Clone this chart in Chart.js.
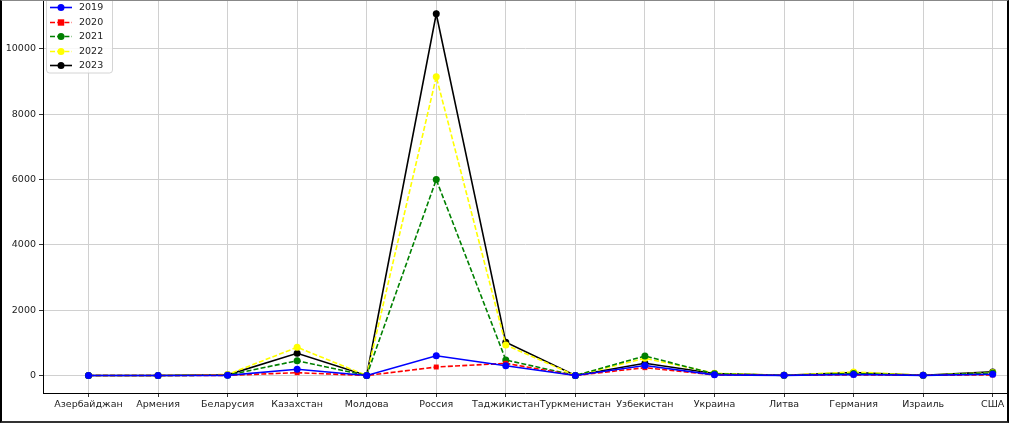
<!DOCTYPE html>
<html>
<head>
<meta charset="utf-8">
<script src="https://cdn.jsdelivr.net/npm/chart.js@4.4.1/dist/chart.umd.min.js"></script>
<style>
    html, body { margin: 0; padding: 0; background: #fff; }
    .frame {
        width: 1005px;
        height: 420px;
        border-left: 2px solid #000;
        border-right: 2px solid #000;
        border-top: 1px solid #888;
        border-bottom: 2px solid #333;
        background: #fff;
    }
    canvas { display: block; }
</style>
</head>
<body>
<div class="frame">
    <canvas id="chart" width="1005" height="420"></canvas>
</div>
<script>
// страны (ось X)
const countries = ['Азербайджан', 'Армения', 'Беларусия', 'Казахстан', 'Молдова', 'Россия',
    'Таджикистан', 'Туркменистан', 'Узбекистан', 'Украина', 'Литва', 'Германия', 'Израиль', 'США'];

// значения по годам
const values2019 = [0, 0, 5, 190, 0, 606, 300, 0, 306, 20, 5, 30, 5, 40];
const values2020 = [0, 0, 5, 86, 0, 260, 373, 0, 240, 20, 5, 20, 5, 20];
const values2021 = [0, 0, 10, 453, 0, 6000, 475, 0, 597, 50, 5, 60, 5, 80];
const values2022 = [0, 0, 30, 864, 0, 9150, 934, 0, 527, 70, 5, 110, 5, 90];
const values2023 = [0, 0, 20, 680, 0, 11080, 1017, 0, 373, 60, 5, 90, 5, 110];

const years = ['2019', '2020', '2021', '2022', '2023'];
const yTicks = [0, 2000, 4000, 6000, 8000, 10000];

const FONT = 'DejaVu Sans';

function toPoints(arr) {
    return arr.map((v, i) => ({ x: i, y: v }));
}

function makeSet(label, values, color, dashed, pointStyle) {
    return {
        label: label,
        data: toPoints(values),
        borderColor: color,
        backgroundColor: color,
        borderWidth: 1.6,
        borderDash: dashed ? [5, 2.2] : [],
        pointStyle: pointStyle,
        pointRadius: 3.5,
        pointBorderWidth: 0,
        pointBackgroundColor: color,
        tension: 0,
        fill: false,
        clip: false
    };
}

// легенда внутри области графика (как в matplotlib)
const innerLegend = {
    id: 'innerLegend',
    afterDraw(chart) {
        const ctx = chart.ctx;
        ctx.save();
        ctx.globalAlpha = 0.85;
        ctx.fillStyle = '#fff';
        ctx.strokeStyle = '#cccccc';
        ctx.lineWidth = 1;
        ctx.beginPath();
        ctx.roundRect(44.5, -6, 66, 78, 3);
        ctx.fill();
        ctx.stroke();
        ctx.globalAlpha = 1;

        const rowsY = [6.5, 21.5, 35.5, 50.5, 64.5];
        chart.data.datasets.forEach((ds, i) => {
            const y = rowsY[i];
            ctx.strokeStyle = ds.borderColor;
            ctx.lineWidth = ds.borderWidth;
            ctx.setLineDash(ds.borderDash);
            ctx.beginPath();
            ctx.moveTo(48, y);
            ctx.lineTo(70, y);
            ctx.stroke();
            ctx.setLineDash([]);
            ctx.fillStyle = ds.borderColor;
            if (ds.pointStyle === 'rect') {
                ctx.fillRect(59 - 3.2, y - 3.2, 6.4, 6.4);
            } else {
                ctx.beginPath();
                ctx.arc(59, y, 3.5, 0, Math.PI * 2);
                ctx.fill();
            }
            ctx.fillStyle = '#222';
            ctx.font = '9.5px "' + FONT + '"';
            ctx.textAlign = 'left';
            ctx.textBaseline = 'middle';
            ctx.fillText(ds.label, 77, y + 0.5);
        });
        ctx.restore();
    }
};

const ctx = document.getElementById('chart').getContext('2d');
const chart = new Chart(ctx, {
    type: 'line',
    data: {
        datasets: [
            makeSet(years[0], values2019, '#0000ff', false, 'circle'),
            makeSet(years[1], values2020, '#ff0000', true, 'rect'),
            makeSet(years[2], values2021, '#008000', true, 'circle'),
            makeSet(years[3], values2022, '#ffff00', true, 'circle'),
            makeSet(years[4], values2023, '#000000', false, 'circle')
        ]
    },
    options: {
        responsive: false,
        animation: false,
        layout: { padding: 0, autoPadding: false },
        plugins: {
            legend: { display: false },
            tooltip: { enabled: false },
            title: { display: false }
        },
        scales: {
            x: {
                type: 'linear',
                min: -0.654,
                max: 13.206,
                afterBuildTicks: (scale) => {
                    scale.ticks = countries.map((_, i) => ({ value: i }));
                },
                afterFit: (scale) => {
                    scale.height = 28;
                    scale.paddingLeft = 0;
                    scale.paddingRight = 0;
                },
                ticks: {
                    autoSkip: false,
                    maxRotation: 0,
                    padding: 2,
                    color: '#222',
                    font: { family: FONT, size: 9.5 },
                    callback: (v) => countries[v]
                },
                grid: {
                    color: '#d0d0d0',
                    lineWidth: 1,
                    tickColor: '#333',
                    tickLength: 4
                },
                border: { display: true, color: '#000', width: 1 }
            },
            y: {
                type: 'linear',
                min: -536,
                max: 11470,
                afterBuildTicks: (scale) => {
                    scale.ticks = yTicks.map(v => ({ value: v }));
                },
                afterFit: (scale) => {
                    scale.width = 41;
                    scale.paddingTop = 0;
                    scale.paddingBottom = 0;
                },
                ticks: {
                    padding: 3,
                    color: '#222',
                    font: { family: FONT, size: 9.5 },
                    callback: (v) => String(v)
                },
                grid: {
                    color: '#d0d0d0',
                    lineWidth: 1,
                    tickColor: '#333',
                    tickLength: 4
                },
                border: { display: true, color: '#000', width: 1 }
            }
        }
    },
    plugins: [innerLegend]
});
</script>
</body>
</html>
